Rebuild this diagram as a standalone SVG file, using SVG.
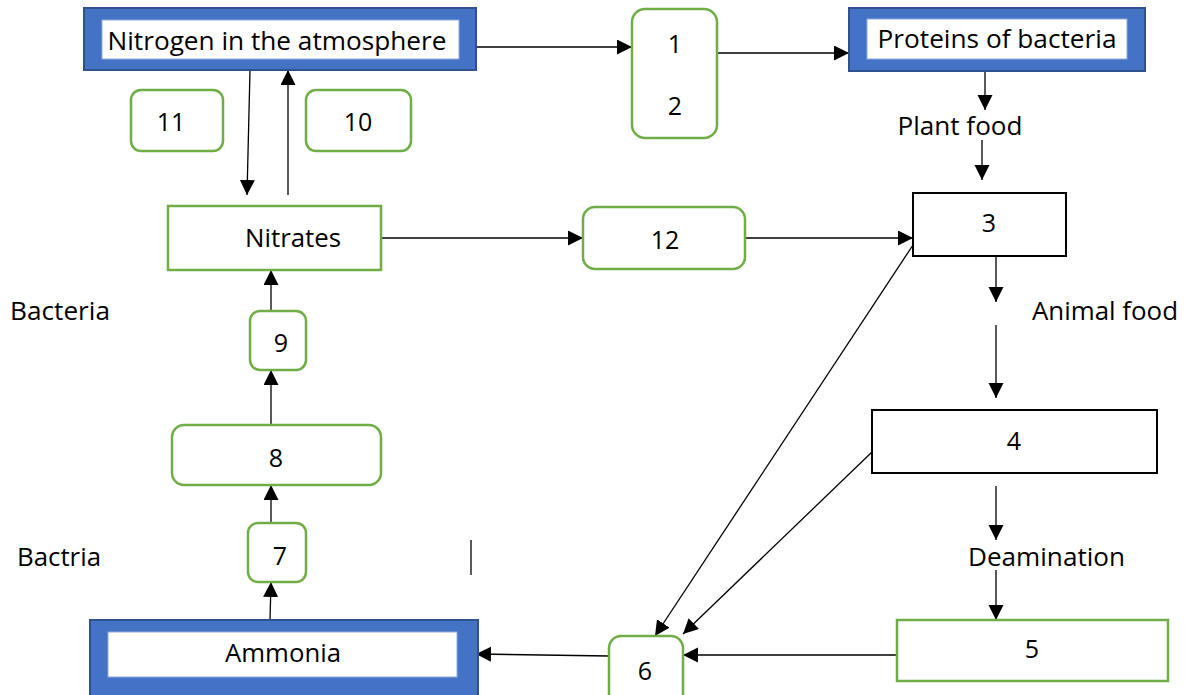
<svg xmlns="http://www.w3.org/2000/svg" width="1190" height="695" viewBox="0 0 1190 695">
<style>
text{font-family:"Open Sans","Noto Sans","Liberation Sans",Arial,sans-serif;font-size:25px;fill:#000}
.c{text-anchor:middle}
.blue{fill:#4472C4;stroke:#2F528F;stroke-width:2}
.inner{fill:#fff;stroke:#8FAADC;stroke-width:1}
.g{fill:#fff;stroke:#70AD47;stroke-width:2.5}
.k{fill:#fff;stroke:#000;stroke-width:2}
.ln{stroke:#000;stroke-width:1.3;fill:none}
.a{marker-end:url(#ah)}
</style>
<defs>
<marker id="ah" markerUnits="userSpaceOnUse" markerWidth="16" markerHeight="16" refX="15" refY="7.5" orient="auto">
<path d="M0,0 L15,7.5 L0,15 z" fill="#000"/>
</marker>
</defs>
<rect width="1190" height="695" fill="#fff"/>
<g id="connectors">
<line class="ln a" x1="476" y1="47" x2="632" y2="47"/>
<line class="ln a" x1="717" y1="53" x2="849" y2="53"/>
<line class="ln a" x1="985" y1="71" x2="985" y2="110"/>
<line class="ln a" x1="982" y1="140" x2="982" y2="180"/>
<line class="ln a" x1="996" y1="250" x2="996" y2="302"/>
<line class="ln a" x1="996" y1="325" x2="996" y2="398"/>
<line class="ln a" x1="996" y1="486" x2="996" y2="540"/>
<line class="ln a" x1="996" y1="570" x2="996" y2="620"/>
<line class="ln a" x1="897" y1="655" x2="683" y2="655"/>
<line class="ln a" x1="609" y1="656" x2="476" y2="654"/>
<line class="ln a" x1="913" y1="245" x2="655" y2="636"/>
<line class="ln a" x1="872" y1="452" x2="683" y2="634"/>
<line class="ln a" x1="381" y1="238" x2="583" y2="238"/>
<line class="ln a" x1="745" y1="238" x2="913" y2="238"/>
<line class="ln a" x1="250" y1="70" x2="247" y2="195"/>
<line class="ln a" x1="288" y1="195" x2="288" y2="70"/>
<line class="ln a" x1="271" y1="311" x2="271" y2="270"/>
<line class="ln a" x1="271" y1="425" x2="271" y2="370"/>
<line class="ln a" x1="271" y1="523" x2="271" y2="485"/>
<line class="ln a" x1="270" y1="620" x2="271" y2="582"/>
<line class="ln" x1="471" y1="540" x2="471" y2="575"/>
</g>
<g id="nitrogen">
<rect class="blue" x="84" y="8" width="392" height="62"/>
<rect class="inner" x="102" y="20" width="357" height="39"/>
<text x="277" y="50" class="c" textLength="339" lengthAdjust="spacingAndGlyphs">Nitrogen in the atmosphere</text>
</g>
<g id="n12">
<rect class="g" x="632" y="9" width="85" height="129" rx="13"/>
<text x="675" y="53" class="c">1</text>
<text x="675" y="115" class="c">2</text>
</g>
<g id="proteins">
<rect class="blue" x="849" y="8" width="296" height="63"/>
<rect class="inner" x="867" y="19" width="260" height="40"/>
<text x="997" y="48" class="c" textLength="239" lengthAdjust="spacingAndGlyphs">Proteins of bacteria</text>
</g>
<g id="plantfood"><text x="960" y="135" class="c" textLength="125" lengthAdjust="spacingAndGlyphs">Plant food</text></g>
<g id="n3">
<rect class="k" x="913" y="193" width="153" height="63"/>
<text x="989" y="232" class="c">3</text>
</g>
<g id="animalfood"><text x="1032" y="320" textLength="146" lengthAdjust="spacingAndGlyphs">Animal food</text></g>
<g id="n4">
<rect class="k" x="872" y="410" width="285" height="63"/>
<text x="1014" y="450" class="c">4</text>
</g>
<g id="deamination"><text x="968" y="566" textLength="157" lengthAdjust="spacingAndGlyphs">Deamination</text></g>
<g id="n5">
<rect class="g" x="897" y="620" width="271" height="61"/>
<text x="1032" y="658" class="c">5</text>
</g>
<g id="n6">
<rect class="g" x="609" y="636" width="74" height="70" rx="12"/>
<text x="645" y="680" class="c">6</text>
</g>
<g id="ammonia">
<rect class="blue" x="90" y="620" width="388" height="80"/>
<rect class="inner" x="108" y="632" width="349" height="45"/>
<text x="283" y="662" class="c" textLength="116" lengthAdjust="spacingAndGlyphs">Ammonia</text>
</g>
<g id="n11">
<rect class="g" x="131" y="90" width="92" height="61" rx="10"/>
<text x="171" y="131" class="c">11</text>
</g>
<g id="n10">
<rect class="g" x="306" y="90" width="105" height="61" rx="10"/>
<text x="358" y="131" class="c">10</text>
</g>
<g id="nitrates">
<rect class="g" x="168" y="206" width="213" height="64"/>
<text x="245" y="247" textLength="96" lengthAdjust="spacingAndGlyphs">Nitrates</text>
</g>
<g id="n12b">
<rect class="g" x="583" y="207" width="162" height="62" rx="12"/>
<text x="665" y="249" class="c">12</text>
</g>
<g id="n9">
<rect class="g" x="250" y="311" width="56" height="59" rx="10"/>
<text x="281" y="352" class="c">9</text>
</g>
<g id="n8">
<rect class="g" x="172" y="425" width="209" height="60" rx="12"/>
<text x="276" y="467" class="c">8</text>
</g>
<g id="n7">
<rect class="g" x="248" y="523" width="58" height="59" rx="10"/>
<text x="280" y="565" class="c">7</text>
</g>
<g id="bacteria"><text x="10" y="320" textLength="100" lengthAdjust="spacingAndGlyphs">Bacteria</text></g>
<g id="bactria"><text x="17" y="566" textLength="84" lengthAdjust="spacingAndGlyphs">Bactria</text></g>
</svg>
